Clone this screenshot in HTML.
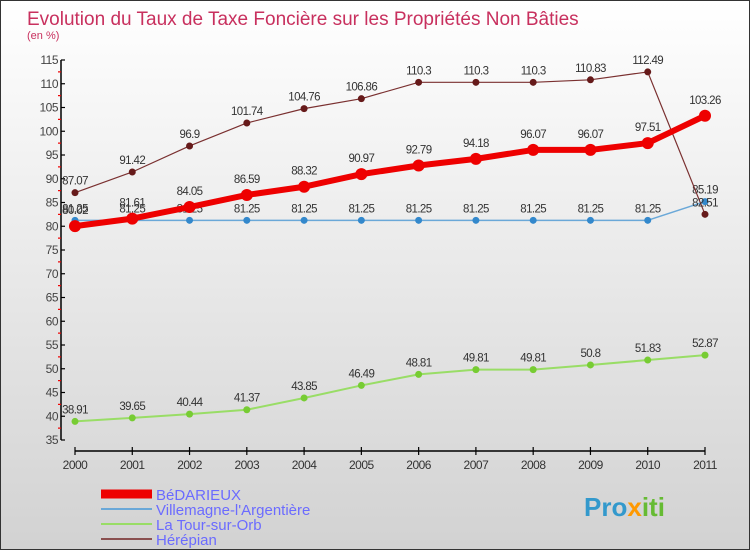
<!DOCTYPE html>
<html><head><meta charset="utf-8"><style>
body{margin:0;}
#c{width:748px;height:548px;border:1px solid #333;background:linear-gradient(#ffffff,#d2d2d2);position:relative;font-family:"Liberation Sans",sans-serif;overflow:hidden}
</style></head><body>
<div id="c">
<svg id="s" width="748" height="548"></svg>
</div>
<script>
const years=["2000","2001","2002","2003","2004","2005","2006","2007","2008","2009","2010","2011"];
const bedarieux=[80.02,81.61,84.05,86.59,88.32,90.97,92.79,94.18,96.07,96.07,97.51,103.26];
const villemagne=[81.25,81.25,81.25,81.25,81.25,81.25,81.25,81.25,81.25,81.25,81.25,85.19];
const latour=[38.91,39.65,40.44,41.37,43.85,46.49,48.81,49.81,49.81,50.8,51.83,52.87];
const herepian=[87.07,91.42,96.9,101.74,104.76,106.86,110.3,110.3,110.3,110.83,112.49,82.51];
const yTicks=[35,40,45,50,55,60,65,70,75,80,85,90,95,100,105,110,115];
const seriesNames=["BéDARIEUX","Villemagne-l'Argentière","La Tour-sur-Orb","Hérépian"];

const NS="http://www.w3.org/2000/svg";
const svg=document.getElementById('s');
function X(i){return 74+i*(630/(years.length-1));}
function Y(v){return 59+(115-v)*4.75;}
function mk(t,a,txt){const e=document.createElementNS(NS,t);for(const k in a)e.setAttribute(k,a[k]);if(txt!==undefined)e.textContent=txt;svg.appendChild(e);return e;}
const fmt=v=>String(v);

let e;
e=mk('text',{x:26,y:24,'font-size':19,fill:'#c8305e','font-weight':'normal'},'Evolution du Taux de Taxe Foncière sur les Propriétés Non Bâties');


e=mk('text',{x:26,y:38,'font-size':11,fill:'#c8305e'},'(en %)');



e=mk('line',{x1:60,y1:Y(115),x2:60,y2:Y(35),stroke:'#000','stroke-width':1.5});


yTicks.forEach(v=>{
  mk('line',{x1:60,y1:Y(v),x2:64,y2:Y(v),stroke:'#000','stroke-width':1.2});
  if(v<115) mk('line',{x1:57,y1:Y(v+2.5),x2:60,y2:Y(v+2.5),stroke:'#e00','stroke-width':1.2});
  const t=mk('text',{x:57,y:Y(v)+4,'font-size':12,fill:'#444','text-anchor':'end','letter-spacing':'-0.5'},fmt(v));
  
  
});
e=mk('line',{x1:X(0),y1:450,x2:X(11),y2:450,stroke:'#000','stroke-width':1.5});


years.forEach((y,i)=>{
  mk('line',{x1:X(i),y1:446,x2:X(i),y2:454,stroke:'#000','stroke-width':1.2});
  const t=mk('text',{x:X(i),y:468,'font-size':12,fill:'#333','text-anchor':'middle','letter-spacing':'-0.5'},y);
  
  
});

function series(data,color,dot,w,r,name,off){
  const g=document.createElementNS(NS,'g');svg.appendChild(g);
  
  
  const p=document.createElementNS(NS,'polyline');
  p.setAttribute('points',data.map((v,i)=>X(i)+','+Y(v)).join(' '));
  p.setAttribute('fill','none');p.setAttribute('stroke',color);p.setAttribute('stroke-width',w);p.setAttribute('stroke-linejoin','round');
  g.appendChild(p);
  data.forEach((v,i)=>{
    const c=document.createElementNS(NS,'circle');
    c.setAttribute('cx',X(i));c.setAttribute('cy',Y(v));c.setAttribute('r',r);c.setAttribute('fill',dot);
    
    
    g.appendChild(c);
    const t=document.createElementNS(NS,'text');
    t.setAttribute('x',X(i));t.setAttribute('y',Y(v)-off);t.setAttribute('font-size',11.5);t.setAttribute('fill','#333');t.setAttribute('text-anchor','middle');t.setAttribute('letter-spacing','-0.6');
    t.textContent=fmt(v);
    
    
    g.appendChild(t);
  });
}
series(latour,'#99dd66','#77cc33',2,3.5,'la-tour-series',8);
series(villemagne,'#6aa8d8','#3388cc',1.5,3.5,'villemagne-series',8);
series(herepian,'#7a3030','#661a1a',1.2,3.5,'herepian-series',8);
series(bedarieux,'#ee0000','#ee0000',6,6,'bedarieux-series',12);

const lc=['#ee0000','#6aa8d8','#99dd66','#8a5050'];const lw=[9,2,2,2];
seriesNames.forEach((n,i)=>{
  const y=493+i*15;
  const l=mk('line',{x1:100,y1:y,x2:151,y2:y,stroke:lc[i],'stroke-width':lw[i]});
  
  
  const t=mk('text',{x:155,y:y+6,'font-size':15,fill:'#6b6bff'},n);
  
  
});
const logo=mk('text',{x:583,y:515,'font-size':26,'font-weight':'bold'});


[['Pro','#3399cc'],['x','#ff9900'],['iti','#66bb33']].forEach(([s,c])=>{
  const ts=document.createElementNS(NS,'tspan');ts.setAttribute('fill',c);ts.textContent=s;logo.appendChild(ts);
});
</script>
</body></html>
